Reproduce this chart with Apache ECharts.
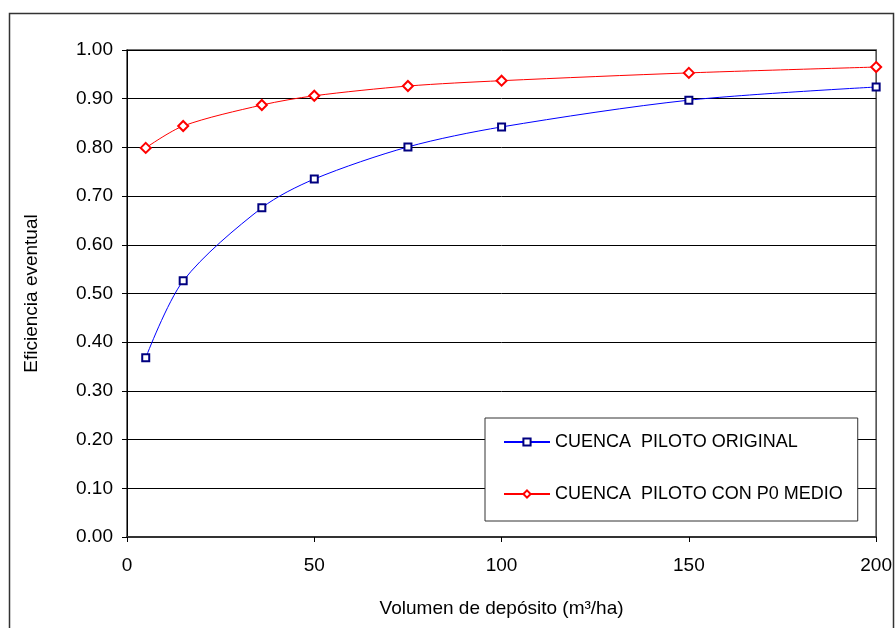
<!DOCTYPE html>
<html><head><meta charset="utf-8">
<script src="https://cdn.jsdelivr.net/npm/echarts@6/dist/echarts.min.js"></script>
<style>html,body{margin:0;padding:0;background:#fff}#c{width:895px;height:628px}</style>
</head><body><div id="c"></div>
<script>
const volumes = [5, 15, 36, 50, 75, 100, 150, 200];
const original = [0.368, 0.526, 0.676, 0.735, 0.801, 0.842, 0.897, 0.924];
const conP0Medio = [0.799, 0.844, 0.887, 0.906, 0.926, 0.937, 0.953, 0.965];
const seriesNames = ['CUENCA  PILOTO ORIGINAL', 'CUENCA  PILOTO CON P0 MEDIO'];
const xTitle = 'Volumen de depósito (m³/ha)';
const yTitle = 'Eficiencia eventual';

const font = 'Liberation Sans, Arial, sans-serif';
const chart = echarts.init(document.getElementById('c'), null, {renderer: 'canvas'});
chart.setOption({
  backgroundColor: '#fff',
  animation: false,
  graphic: [{type: 'rect', shape: {x: 9.5, y: 13.5, width: 884, height: 640}, style: {fill: 'none', stroke: '#333', lineWidth: 1.5}, silent: true}],
  grid: {left: 127, right: 18, top: 50, bottom: 91, show: true, borderColor: '#444', borderWidth: 1.5, backgroundColor: 'transparent'},
  xAxis: {
    type: 'value', min: 0, max: 200, interval: 50,
    name: xTitle, nameLocation: 'middle', nameGap: 62,
    nameTextStyle: {fontFamily: font, fontSize: 19, color: '#000'},
    axisLine: {show: true, lineStyle: {color: '#333', width: 2}},
    axisTick: {show: true, length: 5, lineStyle: {color: '#000'}},
    axisLabel: {fontFamily: font, fontSize: 19, color: '#000', margin: 19},
    splitLine: {show: false}
  },
  yAxis: {
    type: 'value', min: 0, max: 1, interval: 0.1,
    name: yTitle, nameLocation: 'middle', nameGap: 86,
    nameTextStyle: {fontFamily: font, fontSize: 19, color: '#000'},
    axisLine: {show: true, lineStyle: {color: '#000', width: 1}},
    axisTick: {show: true, length: 5, lineStyle: {color: '#000'}},
    axisLabel: {fontFamily: font, fontSize: 19, color: '#000', margin: 14, formatter: v => v.toFixed(2)},
    splitLine: {show: true, lineStyle: {color: '#000', width: 1}}
  },
  legend: {
    orient: 'vertical', left: 485, top: 418,
    backgroundColor: '#fff', borderColor: '#333', borderWidth: 1,
    padding: [15, 15, 18, 18], itemGap: 34, itemWidth: 46, itemHeight: 9,
    textStyle: {fontFamily: font, fontSize: 18, color: '#000', width: 290},
    data: seriesNames
  },
  series: [
    {
      name: seriesNames[0], type: 'line', smooth: 0.3,
      data: volumes.map((v, i) => [v, original[i]]),
      symbol: 'rect', symbolSize: 7,
      lineStyle: {color: '#0000ff', width: 1},
      itemStyle: {color: '#fff', borderColor: '#000080', borderWidth: 2}
    },
    {
      name: seriesNames[1], type: 'line', smooth: 0.3,
      data: volumes.map((v, i) => [v, conP0Medio[i]]),
      symbol: 'diamond', symbolSize: 10,
      lineStyle: {color: '#ff0000', width: 1},
      itemStyle: {color: '#fff', borderColor: '#ff0000', borderWidth: 2}
    }
  ]
});
</script></body></html>
